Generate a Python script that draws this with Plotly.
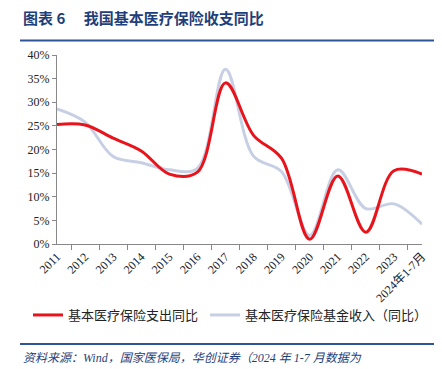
import plotly.graph_objects as go

categories = ["2011", "2012", "2013", "2014", "2015", "2016", "2017", "2018",
              "2019", "2020", "2021", "2022", "2023", "2024年1-7月"]
expense_yoy = [25.3, 25.2, 22.4, 19.7, 14.8, 15.2, 34.1, 23.0, 18.1, 1.0, 14.4, 2.5, 15.5, 14.8]
income_yoy = [28.6, 25.8, 18.5, 17.2, 15.7, 16.0, 37.0, 18.6, 15.3, 1.8, 15.7, 7.5, 8.5, 4.2]
y_ticks = [0, 5, 10, 15, 20, 25, 30, 35, 40]
y_ticklabels = [f"{v}%" for v in y_ticks]

series_names = ["基本医疗保险支出同比", "基本医疗保险基金收入（同比）"]
title_text = "图表 6\u2003 我国基本医疗保险收支同比"
source_text = "资料来源：Wind，国家医保局，华创证券（2024 年 1-7 月数据为"

# page body has an 8px margin; the figure is sized to fill the remaining window
OFF = 8
W, H = 442 - OFF, 369 - OFF
L, R, T, B = 57 - OFF, 20, 55 - OFF, 125
pw, ph = W - L - R, H - T - B

def px_x(px):
    return (px - OFF - L) / pw

def px_y(py):
    return (H - B - (py - OFF)) / ph

serif = "Times New Roman, Liberation Serif, Noto Sans CJK SC, serif"
cjk = "Noto Sans CJK SC, sans-serif"
navy = "#1F3F7A"

fig = go.Figure()
fig.add_trace(go.Scatter(x=categories, y=income_yoy, name=series_names[1], mode="lines",
                         legend="legend2",
                         line=dict(color="#C7CFE4", width=3, shape="spline", smoothing=1.0)))
fig.add_trace(go.Scatter(x=categories, y=expense_yoy, name=series_names[0], mode="lines",
                         legend="legend",
                         line=dict(color="#E8141C", width=3, shape="spline", smoothing=1.0)))

legend_common = dict(orientation="h", yanchor="middle", xanchor="left",
                     font=dict(family=cjk, size=13, color="#222"),
                     bgcolor="rgba(0,0,0,0)")

fig.update_layout(
    width=W, height=H,
    margin=dict(l=L, r=R, t=T, b=B, autoexpand=False),
    paper_bgcolor="white", plot_bgcolor="white",
    showlegend=True,
    legend=dict(x=px_x(28), y=px_y(315), **legend_common),
    legend2=dict(x=px_x(205), y=px_y(315), **legend_common),
    xaxis=dict(type="category", tickson="boundaries", ticks="outside", ticklen=5,
               tickcolor="#888", showline=True, linecolor="#888", linewidth=1,
               showgrid=False, tickangle=-45, automargin=False,
               tickfont=dict(family=serif, size=12, color="#222"), zeroline=False),
    yaxis=dict(range=[0, 40], tickvals=y_ticks, ticktext=y_ticklabels, ticks="outside",
               ticklen=4, tickcolor="#888", showline=True, linecolor="#888", linewidth=1,
               showgrid=False, zeroline=False, automargin=False,
               tickfont=dict(family=serif, size=12, color="#222")),
    shapes=[
        dict(type="line", xref="paper", yref="paper", x0=px_x(20), x1=px_x(434),
             y0=px_y(40.5), y1=px_y(40.5), line=dict(color="#2F5597", width=2)),
        dict(type="line", xref="paper", yref="paper", x0=px_x(20), x1=px_x(434),
             y0=px_y(344), y1=px_y(344), line=dict(color="#2F5597", width=2)),
    ],
    annotations=[
        dict(text="<b>" + title_text + "</b>", xref="paper", yref="paper",
             x=px_x(21), y=px_y(18), xanchor="left", yanchor="middle", showarrow=False,
             font=dict(family=cjk, size=15, color=navy)),
        dict(text="<i>" + source_text + "</i>", xref="paper", yref="paper",
             x=px_x(21), y=px_y(358), xanchor="left", yanchor="middle", showarrow=False,
             font=dict(family=serif, size=12, color=navy)),
    ],
)

fig.write_html("out.html")
